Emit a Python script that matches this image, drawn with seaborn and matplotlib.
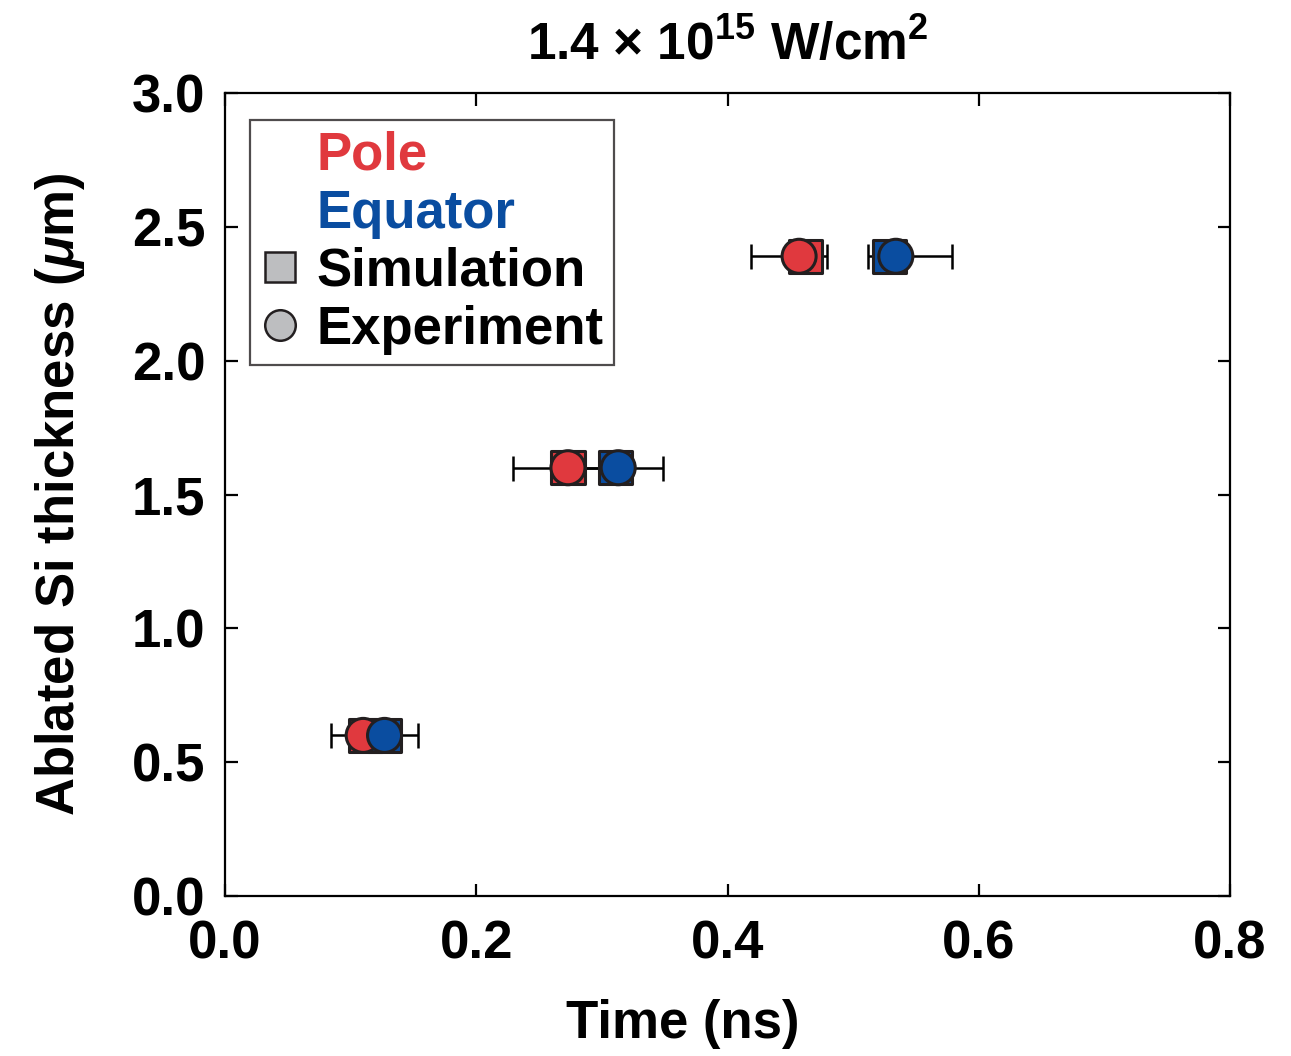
import matplotlib
matplotlib.use("Agg")
import matplotlib.pyplot as plt
from matplotlib.lines import Line2D
import seaborn as sns
import pandas as pd
import numpy as np

# Ablated Si thickness at 1.4e15 W/cm^2
thickness = [0.60, 1.60, 2.39]

sim_pole = [0.112, 0.273, 0.462]
sim_equator = [0.127, 0.311, 0.529]

exp_pole = [0.110, 0.273, 0.457]
exp_pole_err_lo = [0.026, 0.044, 0.038]
exp_pole_err_hi = [0.026, 0.044, 0.022]

exp_equator = [0.127, 0.313, 0.534]
exp_equator_err_lo = [0.027, 0.036, 0.022]
exp_equator_err_hi = [0.027, 0.036, 0.045]

regions = ["Pole", "Equator"]
colors = {"Pole": "#E0393E", "Equator": "#0A4DA0"}
edge = "#231F20"

sns.set_theme(style="ticks")
plt.rcParams["font.family"] = ["Liberation Sans", "DejaVu Sans"]
plt.rcParams["font.weight"] = "bold"
plt.rcParams["text.color"] = "black"
plt.rcParams["axes.labelcolor"] = "black"
plt.rcParams["mathtext.fontset"] = "custom"
plt.rcParams["mathtext.rm"] = "Liberation Sans:bold"
plt.rcParams["mathtext.bf"] = "Liberation Sans:bold"
plt.rcParams["mathtext.it"] = "Liberation Sans:bold:italic"

sim = pd.DataFrame({
    "time": sim_pole + sim_equator,
    "thickness": thickness * 2,
    "region": ["Pole"] * 3 + ["Equator"] * 3,
})
exp = pd.DataFrame({
    "time": exp_pole + exp_equator,
    "thickness": thickness * 2,
    "region": ["Pole"] * 3 + ["Equator"] * 3,
})

fig = plt.figure(figsize=(12.91, 10.56), dpi=100)
ax = fig.add_axes([225 / 1291, 1 - 896 / 1056, 1005 / 1291, 803 / 1056])

# horizontal error bars on the measured points
ax.errorbar(exp_pole, thickness, xerr=[exp_pole_err_lo, exp_pole_err_hi],
            fmt="none", ecolor="black", elinewidth=1.8, capsize=9, capthick=1.8, zorder=1)
ax.errorbar(exp_equator, thickness, xerr=[exp_equator_err_lo, exp_equator_err_hi],
            fmt="none", ecolor="black", elinewidth=1.8, capsize=9, capthick=1.8, zorder=1)

sns.scatterplot(data=sim, x="time", y="thickness", hue="region", hue_order=regions,
                palette=colors, marker="s", s=580, edgecolor=edge, linewidth=2.2,
                legend=False, ax=ax, zorder=2)
sns.scatterplot(data=exp, x="time", y="thickness", hue="region", hue_order=regions,
                palette=colors, marker="o", s=600, edgecolor=edge, linewidth=2.2,
                legend=False, ax=ax, zorder=3)

ax.set_xlim(0, 0.8)
ax.set_ylim(0, 3.0)
ax.set_xticks(np.arange(0, 0.81, 0.2))
ax.set_yticks(np.arange(0, 3.01, 0.5))
ax.xaxis.set_major_formatter(matplotlib.ticker.FormatStrFormatter("%.1f"))
ax.yaxis.set_major_formatter(matplotlib.ticker.FormatStrFormatter("%.1f"))
ax.tick_params(direction="in", length=9, width=1.6, top=True, right=True,
               labelsize=38, colors="black")
ax.tick_params(axis="x", pad=17)
ax.tick_params(axis="y", pad=14)
for sp in ax.spines.values():
    sp.set_linewidth(1.6)
    sp.set_color("black")

ax.set_xlabel("Time (ns)", fontsize=38, fontweight="bold")
ax.xaxis.set_label_coords(0.455, -0.128)
ax.set_ylabel(r"Ablated Si thickness ($\mu$m)", fontsize=38, fontweight="bold")
ax.yaxis.set_label_coords(-0.137, 0.5)
ax.set_title(r"1.4 $\times$ 10$^{15}$ W/cm$^{2}$", fontsize=37, fontweight="bold", pad=24)

blank = Line2D([], [], linestyle="none", marker=None)
handles = [
    blank, blank,
    Line2D([], [], linestyle="none", marker="s", markersize=22, markerfacecolor="#BDBEC0",
           markeredgecolor=edge, markeredgewidth=1.8),
    Line2D([], [], linestyle="none", marker="o", markersize=22, markerfacecolor="#BDBEC0",
           markeredgecolor=edge, markeredgewidth=1.8),
]
labels = ["Pole", "Equator", "Simulation", "Experiment"]
leg = ax.legend(handles, labels, loc="upper left", bbox_to_anchor=(0.025, 0.966),
                fontsize=38, frameon=True, fancybox=False, edgecolor="#231F20",
                handlelength=0.75, handletextpad=0.3, labelspacing=0.15,
                borderpad=0.2, borderaxespad=0.0)
leg.get_frame().set_linewidth(1.6)
for txt, c in zip(leg.get_texts(), [colors["Pole"], colors["Equator"], "black", "black"]):
    txt.set_color(c)
    txt.set_fontweight("bold")

fig.savefig("out.png", dpi=100)
